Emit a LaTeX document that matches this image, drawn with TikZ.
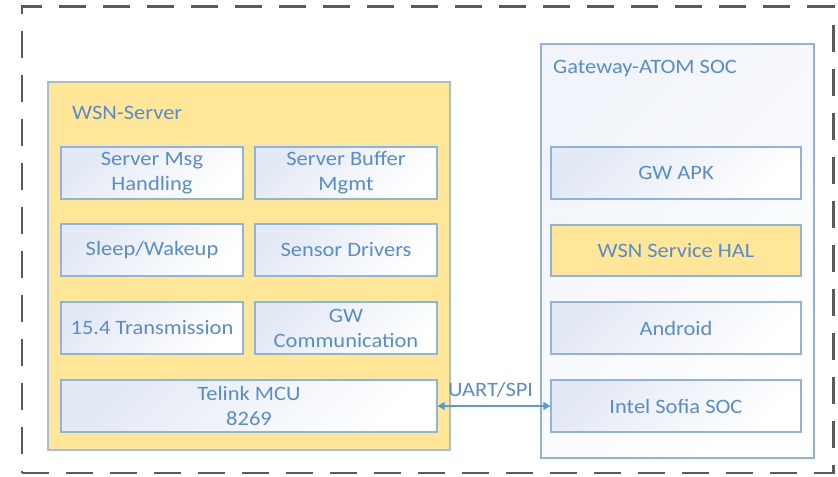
\documentclass[tikz,border=0pt]{standalone}
\usepackage{fontspec}
\setmainfont{Carlito}[FakeStretch=1.1]
\usetikzlibrary{arrows.meta}
\definecolor{txtc}{HTML}{5A8CC8}
\definecolor{bordc}{HTML}{8FB3DC}
\definecolor{yell}{HTML}{FFE699}
\definecolor{yellb}{HTML}{A9BCD0}
\definecolor{shadec}{HTML}{E3E9F5}
\definecolor{dashc}{HTML}{5A5A5A}
\definecolor{arrc}{HTML}{5B9BD5}
\tikzset{
  bfont/.style={font=\fontsize{20.5}{25}\selectfont},
  inbox/.style={draw=bordc, line width=1.2pt, top color=shadec, bottom color=white, shading angle=45,
    inner sep=0pt, align=center, text=txtc, bfont},
  hal/.style={draw=bordc, line width=1.2pt, fill=yell, inner sep=0pt, align=center, text=txtc, bfont},
  ttl/.style={text=txtc, bfont, inner sep=0pt, anchor=west},
}
\newcommand{\bx}[6]{%
  \node[#1, minimum width={(#4-#2)*1bp}, minimum height={(#5-#3)*1bp}] (#6) at ({(#2+#4)/2},{(#3+#5)/2})}
\begin{document}
\begin{tikzpicture}[x=1bp,y=-1bp]
\useasboundingbox (0,0) rectangle (838,477);
% outer dashed frame
\node[draw=dashc, line width=3pt, dash pattern=on 27bp off 17bp, minimum width=811bp, minimum height=466bp, inner sep=0pt] (frame) at (427.5,240) {};
% WSN server
\node[draw=yellb, fill=yell, line width=1.2pt, minimum width=402bp, minimum height=368bp, inner sep=0pt] (wsn) at (249,266) {};
\node[ttl] (wsnt) at (72,113) {WSN-Server};
% gateway
\node[draw=bordc, line width=1.2pt, top color=shadec!50, bottom color=white, shading angle=45, minimum width=273bp, minimum height=414bp, inner sep=0pt] (gw) at (677.5,251) {};
\node[ttl] (gwt) at (553,69) {Gateway-ATOM SOC};
% left inner boxes
\bx{inbox}{61}{147}{243}{199}{a1} {Server Msg\\Handling};
\bx{inbox}{255}{147}{437}{199}{a2} {Server Buffer\\Mgmt};
\bx{inbox}{61}{224}{243}{276}{b1} {Sleep/Wakeup};
\bx{inbox}{255}{224}{437}{276}{b2} {Sensor Drivers};
\bx{inbox}{61}{302}{243}{354}{c1} {15.4 Transmission};
\bx{inbox}{255}{302}{437}{354}{c2} {GW\\Communication};
\bx{inbox}{61}{380}{437}{432}{mcu} {Telink MCU\\8269};
% right inner boxes
\bx{inbox}{551}{147}{801}{199}{apk} {GW APK};
\bx{hal}{551}{225}{801}{276}{hal} {WSN Service HAL};
\bx{inbox}{551}{302}{801}{354}{andr} {Android};
\bx{inbox}{551}{380}{801}{432}{sofia} {Intel Sofia SOC};
% connector
\draw[arrc, line width=1.2pt, {Triangle[length=7bp,width=8bp]}-{Triangle[length=7bp,width=8bp]}] (mcu.east) -- (sofia.west)
  node[pos=0.47, above=8bp, text=txtc, bfont, inner sep=0pt] (uart) {UART/SPI};
\end{tikzpicture}
\end{document}
